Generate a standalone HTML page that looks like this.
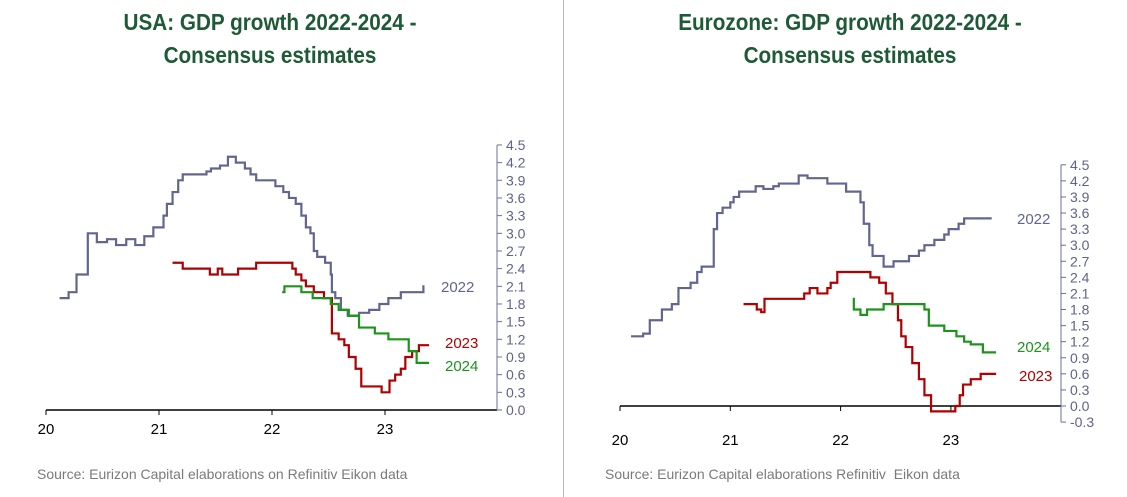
<!DOCTYPE html>
<html><head><meta charset="utf-8">
<style>
body{margin:0;background:#fff;font-family:"Liberation Sans",Arial,sans-serif;}
#wrap{position:relative;width:1127px;height:497px;overflow:hidden;}
.title{position:absolute;top:6px;width:500px;text-align:center;color:#1d5a35;font-weight:bold;font-size:23px;line-height:33px;transform:scaleX(0.9);}
.src{position:absolute;top:466px;color:#7a7a7a;font-size:14px;}
</style></head>
<body>
<div id="wrap">
<div class="title" style="left:20px">USA: GDP growth 2022-2024 -<br>Consensus estimates</div>
<div class="title" style="left:600px">Eurozone: GDP growth 2022-2024 -<br>Consensus estimates</div>
<div class="src" style="left:37px">Source: Eurizon Capital elaborations on Refinitiv Eikon data</div>
<div class="src" style="left:605px">Source: Eurizon Capital elaborations Refinitiv&nbsp; Eikon data</div>
<div style="position:absolute;left:563px;top:0;width:1px;height:497px;background:#bbb"></div>
<svg id="svg" width="1127" height="497" style="position:absolute;left:0;top:0"></svg>
</div>
<script>
const xYears=[20,21,22,23];
const usaTicks=[0,0.3,0.6,0.9,1.2,1.5,1.8,2.1,2.4,2.7,3.0,3.3,3.6,3.9,4.2,4.5];
const ezTicks=[-0.3,0,0.3,0.6,0.9,1.2,1.5,1.8,2.1,2.4,2.7,3.0,3.3,3.6,3.9,4.2,4.5];
const usa2022T=[20.12,20.2,20.27,20.37,20.45,20.54,20.62,20.71,20.79,20.87,20.95,21.04,21.07,21.12,21.17,21.21,21.42,21.46,21.54,21.61,21.68,21.76,21.81,21.86,22.03,22.10,22.15,22.21,22.26,22.30,22.34,22.37,22.40,22.47,22.52,22.53,22.56,22.61,22.67,22.77,22.86,22.95,23.03,23.14,23.34];
const usa2022V=[1.9,2.0,2.3,3.0,2.85,2.9,2.8,2.9,2.8,2.95,3.1,3.3,3.5,3.7,3.9,4.0,4.05,4.1,4.15,4.3,4.2,4.1,4.0,3.9,3.8,3.7,3.6,3.5,3.3,3.1,3.0,2.7,2.6,2.5,2.3,2.0,1.9,1.7,1.6,1.65,1.7,1.8,1.9,2.0,2.1];
const usa2023T=[21.12,21.21,21.45,21.52,21.56,21.70,21.86,22.18,22.21,22.26,22.30,22.37,22.46,22.53,22.59,22.64,22.68,22.74,22.79,22.97,23.04,23.09,23.14,23.18,23.24,23.30,23.39];
const usa2023V=[2.5,2.4,2.3,2.4,2.3,2.4,2.5,2.4,2.3,2.2,2.1,2.0,1.9,1.3,1.2,1.1,0.9,0.7,0.4,0.3,0.5,0.6,0.7,0.9,1.0,1.1,1.1];
const usa2024T=[22.09,22.11,22.26,22.36,22.52,22.59,22.68,22.77,22.91,23.03,23.21,23.28,23.39];
const usa2024V=[2.0,2.1,2.0,1.9,1.8,1.7,1.6,1.4,1.3,1.2,1.0,0.8,0.8];
const ez2022T=[20.10,20.21,20.27,20.38,20.47,20.53,20.64,20.70,20.74,20.85,20.88,20.93,21.0,21.03,21.08,21.23,21.30,21.39,21.44,21.62,21.70,21.88,22.05,22.18,22.21,22.26,22.29,22.39,22.48,22.62,22.71,22.76,22.85,22.94,22.98,23.07,23.12,23.37];
const ez2022V=[1.3,1.35,1.6,1.8,1.9,2.2,2.3,2.5,2.6,3.3,3.6,3.7,3.8,3.9,4.0,4.1,4.05,4.1,4.15,4.3,4.25,4.15,4.0,3.8,3.4,3.0,2.8,2.6,2.7,2.8,2.9,3.0,3.1,3.2,3.3,3.4,3.5,3.5];
const ez2023T=[21.12,21.24,21.28,21.31,21.67,21.72,21.79,21.88,21.91,21.97,22.27,22.35,22.41,22.47,22.52,22.55,22.59,22.65,22.71,22.76,22.82,23.04,23.08,23.11,23.18,23.27,23.41];
const ez2023V=[1.9,1.8,1.75,2.0,2.1,2.2,2.1,2.2,2.3,2.5,2.4,2.3,2.1,1.9,1.6,1.3,1.1,0.8,0.5,0.2,-0.1,0.0,0.2,0.4,0.5,0.6,0.6];
const ez2024T=[22.11,22.12,22.18,22.24,22.39,22.76,22.80,22.94,23.05,23.12,23.18,23.29,23.41];
const ez2024V=[2.0,1.8,1.7,1.8,1.9,1.8,1.5,1.4,1.3,1.2,1.15,1.0,1.0];

const NS='http://www.w3.org/2000/svg';
const svg=document.getElementById('svg');
function mk(tag,attrs,parent){const e=document.createElementNS(NS,tag);for(const k in attrs)e.setAttribute(k,attrs[k]);(parent||svg).appendChild(e);return e;}

function chart(cfg){
  const g=mk('g',{});
  
  
  const X=t=>cfg.x0+(t-20)*cfg.px;
  const Y=v=>cfg.y0-v*cfg.py;
  const xa=mk('line',{x1:X(20),x2:cfg.ax,y1:Y(0),y2:Y(0),stroke:'#000','stroke-width':1.5},g);
  
  
  xYears.forEach(yr=>{
    mk('line',{x1:X(yr),x2:X(yr),y1:Y(0),y2:Y(0)+5,stroke:'#000'},g);
    const t=mk('text',{x:X(yr),y:cfg.xly,'text-anchor':'middle','font-size':15,fill:'#000'},g);
    t.textContent=String(yr);
    
    
  });
  const ticks=cfg.ticks;
  const ya=mk('line',{x1:cfg.ax,x2:cfg.ax,y1:Y(ticks[0]),y2:Y(ticks[ticks.length-1]),stroke:'#6b6f95','stroke-width':1},g);
  
  
  ticks.forEach(v=>{
    mk('line',{x1:cfg.ax,x2:cfg.ax+5,y1:Y(v),y2:Y(v),stroke:'#6b6f95'},g);
    const t=mk('text',{x:cfg.ax+9,y:Y(v)+5,'font-size':14,fill:'#5f6388'},g);
    t.textContent=v.toFixed(1);
    
    
  });
  cfg.series.forEach(s=>{
    let d='';
    s.t.forEach((t,i)=>{
      if(i===0)d='M'+X(t)+' '+Y(s.v[i]);
      else d+=' H'+X(t)+' V'+Y(s.v[i]);
    });
    d+=' H'+X(s.end);
    const p=mk('path',{d:d,fill:'none',stroke:s.color,'stroke-width':2.2},g);
    
    
    const l=mk('text',{x:s.lx,y:s.ly,'font-size':15,fill:s.color},g);
    l.textContent=s.label;
    
    
  });
}
chart({name:'usa-chart',x0:46,px:113,y0:410,py:58.9,ax:497,xly:434,ticks:usaTicks,series:[
 {name:'usa-line-2022',t:usa2022T,v:usa2022V,end:23.33,color:'#62668f',label:'2022',lx:441,ly:292},
 {name:'usa-line-2023',t:usa2023T,v:usa2023V,end:23.39,color:'#b00000',label:'2023',lx:445,ly:348},
 {name:'usa-line-2024',t:usa2024T,v:usa2024V,end:23.39,color:'#1a951a',label:'2024',lx:445,ly:371}]});
chart({name:'eurozone-chart',x0:620,px:110.3,y0:406,py:53.6,ax:1061,xly:445,ticks:ezTicks,series:[
 {name:'ez-line-2022',t:ez2022T,v:ez2022V,end:23.37,color:'#62668f',label:'2022',lx:1017,ly:224},
 {name:'ez-line-2023',t:ez2023T,v:ez2023V,end:23.41,color:'#b00000',label:'2023',lx:1019,ly:381},
 {name:'ez-line-2024',t:ez2024T,v:ez2024V,end:23.41,color:'#1a951a',label:'2024',lx:1017,ly:352}]});
</script>
</body></html>
